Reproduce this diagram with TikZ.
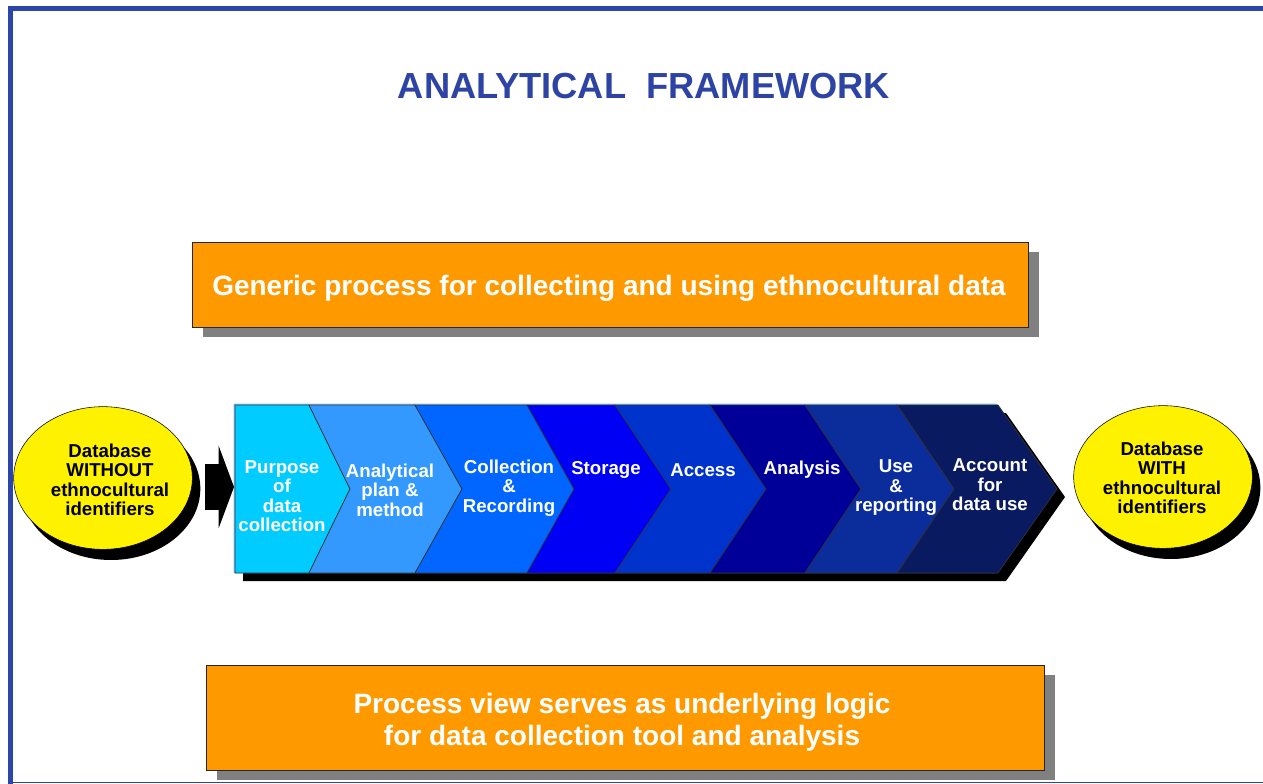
\documentclass[tikz,border=0pt]{standalone}
\usepackage{fontspec}
\setmainfont{Liberation Sans}
\usepackage{xcolor}
\usetikzlibrary{shapes.geometric,shadows,arrows.meta}

\definecolor{frameblue}{HTML}{2C45A8}
\definecolor{titleblue}{HTML}{2E44A4}
\definecolor{boxorange}{HTML}{FF9900}
\definecolor{edgeblue}{HTML}{8FC0F0}
\definecolor{segA}{HTML}{00CCFF}
\definecolor{segB}{HTML}{3399FF}
\definecolor{segC}{HTML}{0066FF}
\definecolor{segD}{HTML}{0000F5}
\definecolor{segE}{HTML}{0033CC}
\definecolor{segF}{HTML}{000099}
\definecolor{segG}{HTML}{0B2D9C}
\definecolor{segH}{HTML}{0A1A60}

\tikzset{
  orangebox/.style={draw=black!85, fill=boxorange, inner sep=0pt,
    drop shadow={shadow xshift=8.25pt, shadow yshift=-7.75pt, fill=black!50, opacity=1}},
  boxtext/.style={text=white, align=center, inner sep=0pt,
    font=\fontsize{21}{24}\selectfont\bfseries},
  dbnode/.style={ellipse, draw=black, fill=yellow, inner sep=0pt,
    minimum width=134pt, minimum height=107pt,
    drop shadow={shadow xshift=6pt, shadow yshift=-8pt, fill=black, opacity=1}},
  dbtext/.style={align=center, inner sep=0pt,
    font=\fontsize{14}{14.6}\selectfont\bfseries},
  steplabel/.style={text=white, align=center, inner sep=0pt,
    font=\fontsize{14}{14.6}\selectfont\bfseries},
  segment/.style={draw=black!80, line width=0.5pt},
  blockarrow/.style={line width=35pt, -{Triangle[length=11.5pt,width=61.5pt]}}
}

\begin{document}
\begin{tikzpicture}[x=0.75pt,y=-0.75pt]
            \useasboundingbox (0,0) rectangle (1263,784);

            % frame
            \fill[frameblue] (8,6) rectangle (1263,11);
            \fill[frameblue] (8,6) rectangle (13,784);
            \draw[frameblue, line width=0.75pt] (8,782.5) -- (1263,782.5);

            \node[text=titleblue, font=\fontsize{27.2}{30}\selectfont\bfseries] (title) at (644,86) {ANALYTICAL\ \ FRAMEWORK};

            \node[orangebox, minimum width=627pt, minimum height=63.75pt] (generic) at (610,284.5) {};
            \node[boxtext] (generictext) at (609,288) {Generic process for collecting and using ethnocultural data};

            % chevron band
            \coordinate (t0) at (235,405); \coordinate (p0) at (235,489); \coordinate (b0) at (235,573);
            \coordinate (t1) at (309,405); \coordinate (p1) at (350,489); \coordinate (b1) at (309,573);
            \coordinate (t2) at (415,405); \coordinate (p2) at (462,489); \coordinate (b2) at (415,573);
            \coordinate (t3) at (527,405); \coordinate (p3) at (574,489); \coordinate (b3) at (527,573);
            \coordinate (t4) at (615,405); \coordinate (p4) at (671,489); \coordinate (b4) at (615,573);
            \coordinate (t5) at (710,405); \coordinate (p5) at (766,489); \coordinate (b5) at (710,573);
            \coordinate (t6) at (805,405); \coordinate (p6) at (861,489); \coordinate (b6) at (805,573);
            \coordinate (t7) at (897,405); \coordinate (p7) at (954,489); \coordinate (b7) at (897,573);
            \coordinate (t8) at (998,405); \coordinate (p8) at (1057,489); \coordinate (b8) at (998,573);

            \fill[black] ([shift={(8,8)}]t0) -- ([shift={(8,8)}]t8) -- ([shift={(8,8)}]p8)
                -- ([shift={(8,8)}]b8) -- ([shift={(8,8)}]b0) -- cycle;
            \fill[edgeblue] ([shift={(-1.5,-1.5)}]t0) -- ([shift={(-1.5,-1.5)}]t8) -- ([shift={(-1.5,-1.5)}]p8)
                -- ([shift={(-1.5,0)}]b8) -- ([shift={(-1.5,0)}]b0) -- cycle;

            \draw[segment, fill=segA] (t0) -- (t1) -- (p1) -- (b1) -- (b0) -- cycle;
            \draw[segment, fill=segB] (t1) -- (t2) -- (p2) -- (b2) -- (b1) -- (p1) -- cycle;
            \draw[segment, fill=segC] (t2) -- (t3) -- (p3) -- (b3) -- (b2) -- (p2) -- cycle;
            \draw[segment, fill=segD] (t3) -- (t4) -- (p4) -- (b4) -- (b3) -- (p3) -- cycle;
            \draw[segment, fill=segE] (t4) -- (t5) -- (p5) -- (b5) -- (b4) -- (p4) -- cycle;
            \draw[segment, fill=segF] (t5) -- (t6) -- (p6) -- (b6) -- (b5) -- (p5) -- cycle;
            \draw[segment, fill=segG] (t6) -- (t7) -- (p7) -- (b7) -- (b6) -- (p6) -- cycle;
            \draw[segment, fill=segH] (t7) -- (t8) -- (p8) -- (b8) -- (b7) -- (p7) -- cycle;

            \node[steplabel] (purpose) at (282,496) {Purpose\\of\\data\\collection};
            \node[steplabel] (plan) at (390,490) {Analytical\\plan \&\\method};
            \node[steplabel] (collect) at (509,488) {Collection\\\&\\Recording};
            \node[steplabel] (storage) at (606,470) {Storage};
            \node[steplabel] (access) at (703,470) {Access};
            \node[steplabel] (analysis) at (802,470) {Analysis};
            \node[steplabel] (use) at (896,488) {Use\\\&\\reporting};
            \node[steplabel] (account) at (990,485) {Account\\for\\data use};

            % databases
            \node[dbnode] (dbwithout) at (103,478) {};
            \node[dbtext] (dbwithouttext) at (110,480) {Database\\WITHOUT\\ethnocultural\\identifiers};
            \node[dbnode] (dbwith) at (1163,477) {};
            \node[dbtext] (dbwithtext) at (1162,478) {Database\\WITH\\ethnocultural\\identifiers};

            \coordinate (arrtail) at (205,487);
            \coordinate (flowin) at (234,487);
            \draw[blockarrow] (arrtail) -- (flowin);

            \node[orangebox, minimum width=628.5pt, minimum height=78.75pt] (logic) at (625,717.5) {};
            \node[boxtext] (logictext) at (622,722) {Process view serves as underlying logic\\for data collection tool and analysis};
        \end{tikzpicture}
\end{document}
